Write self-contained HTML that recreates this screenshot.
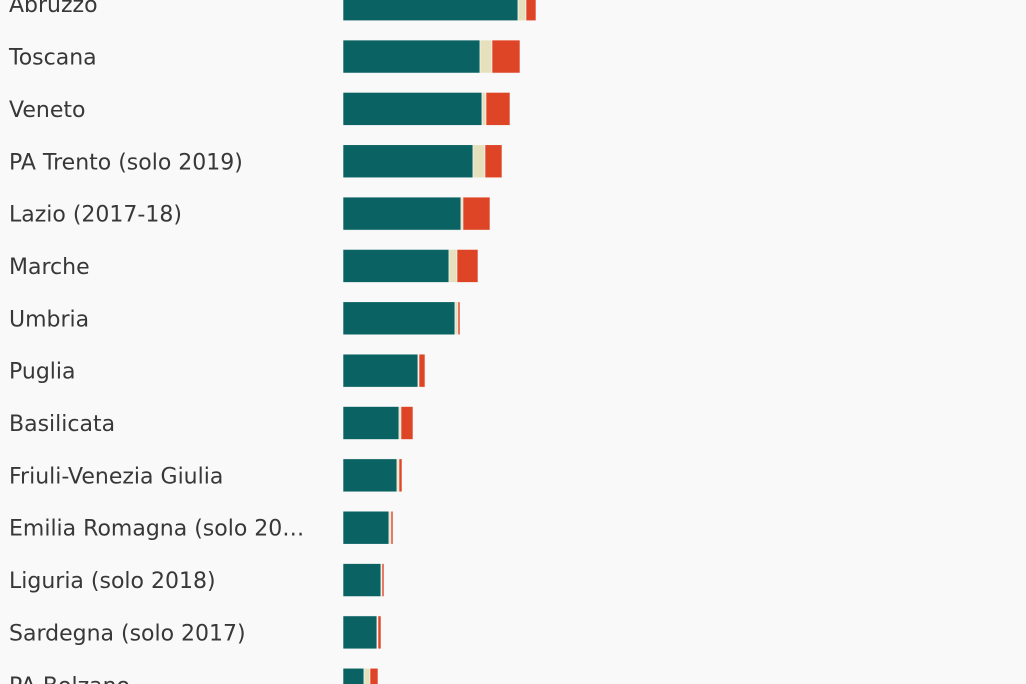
<!DOCTYPE html>
<html><head><meta charset="utf-8">
<style>
html,body{margin:0;padding:0;background:#f9f9f9;}
svg{display:block;font-family:"DejaVu Sans","Liberation Sans",sans-serif;}
</style></head>
<body>
<svg id="chart" width="1026" height="684" viewBox="0 0 1026 684">
<rect x="0" y="0" width="1026" height="684" fill="#f9f9f9"></rect>
<g id="rows"></g>
</svg>
<script>
const categories=["Abruzzo","Toscana","Veneto","PA Trento (solo 2019)","Lazio (2017-18)","Marche","Umbria","Puglia","Basilicata","Friuli-Venezia Giulia","Emilia Romagna (solo 20…","Liguria (solo 2018)","Sardegna (solo 2017)","PA Bolzano"];
const seriesA=[175,137,139,130,118,106,112,75,56,54,46,38,34,21];
const seriesB=[8,12,4,12,2,8,3,1,2,2,2,1,1,6];
const seriesC=[10,28,24,17,27,21,2,6,12,3,2,2,3,8];
const colors=["#0a6262","#e6e0bc","#de4426"];
const x0=343, xScale=v=>v*1.0;
const yTop=i=>-12.3+i*52.35, barH=33;
const svgNS="http://www.w3.org/2000/svg";
const g=document.getElementById('rows');
categories.forEach((c,i)=>{
  const row=document.createElementNS(svgNS,'g');
  
  
  const t=document.createElementNS(svgNS,'text');
  
  
  t.setAttribute('x',9);t.setAttribute('y',yTop(i)+barH/2+8);
  t.setAttribute('font-size','22');t.setAttribute('fill','#383838');
  t.textContent=c;row.appendChild(t);
  let x=x0;
  [seriesA[i],seriesB[i],seriesC[i]].forEach((v,k)=>{
    const r=document.createElementNS(svgNS,'rect');
    
    
    const w=xScale(v);
    r.setAttribute('x',x);r.setAttribute('y',yTop(i));
    r.setAttribute('width',w);r.setAttribute('height',barH);
    r.setAttribute('fill',colors[k]);r.setAttribute('stroke','#f9f9f9');r.setAttribute('stroke-width','0.6');
    row.appendChild(r);x+=w;
  });
  g.appendChild(row);
});
</script>
</body></html>
